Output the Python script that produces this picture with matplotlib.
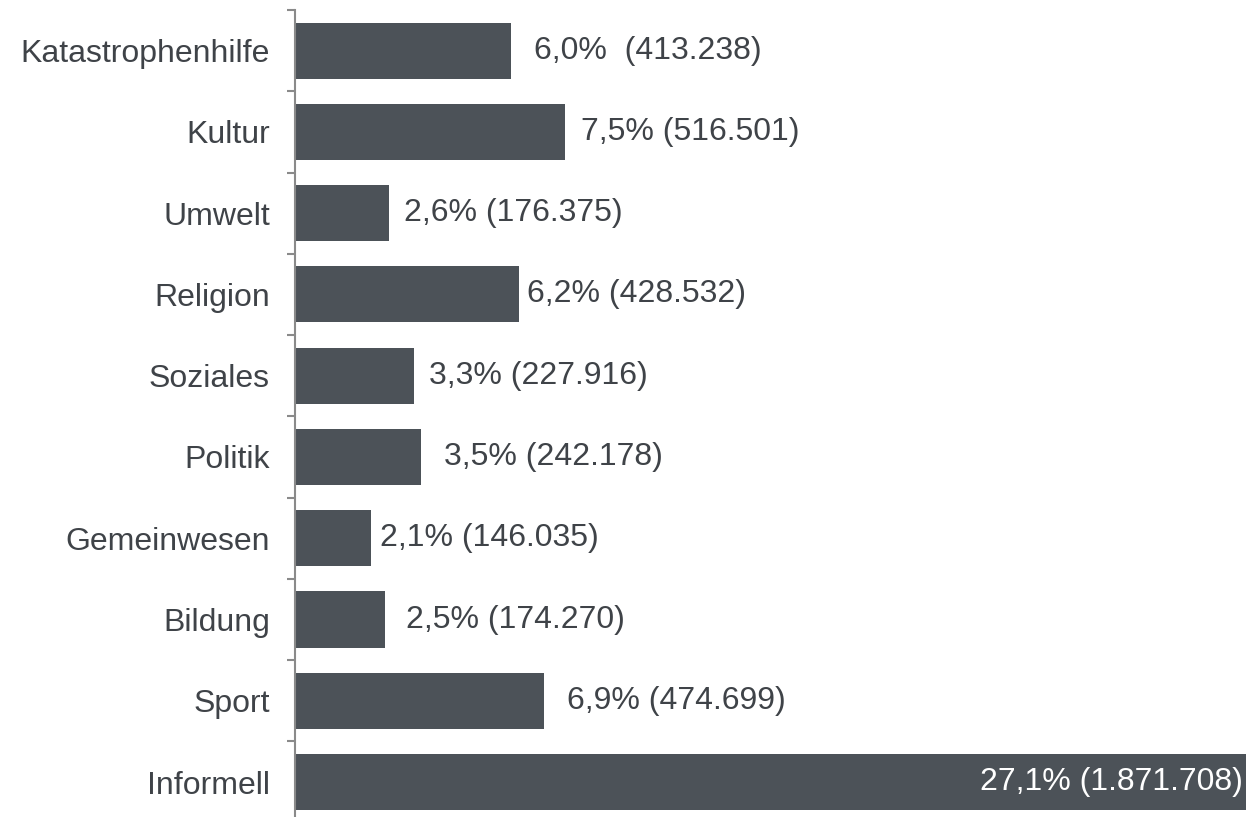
import numpy as np
from matplotlib import pyplot as plt

# data
categories = ["Katastrophenhilfe", "Kultur", "Umwelt", "Religion", "Soziales",
              "Politik", "Gemeinwesen", "Bildung", "Sport", "Informell"]
percent = [6.0, 7.5, 2.6, 6.2, 3.3, 3.5, 2.1, 2.5, 6.9, 27.1]
labels = ["6,0%  (413.238)", "7,5% (516.501)", "2,6% (176.375)", "6,2% (428.532)",
          "3,3% (227.916)", "3,5% (242.178)", "2,1% (146.035)", "2,5% (174.270)",
          "6,9% (474.699)", "27,1% (1.871.708)"]

# label gap after each bar end (points), uneven like in the original
gaps = [16.5, 11, 11, 6, 11, 16.5, 7, 15, 16.5]

bar_color = "#4c5258"
text_color = "#3f4348"
axis_color = "#8a8a8a"

plt.rcParams['font.family'] = ['Liberation Sans', 'DejaVu Sans']

fig = plt.figure(figsize=(12.46, 8.17), dpi=100)
ax = fig.add_axes([295/1246, 0, 951/1246, 807/817])

y = np.arange(len(categories))
ax.barh(y, percent, height=0.69, color=bar_color)

ax.set_xlim(0, 951/36.05)
ax.set_ylim(9.43, -0.5)

# value labels
for i in range(len(categories)):
    if i < len(gaps):
        ax.annotate(labels[i], xy=(percent[i], y[i]), xytext=(gaps[i], 0),
                    textcoords='offset points', ha='left', va='center',
                    fontsize=23, color=text_color)
    else:
        # bar runs off the edge, label sits inside in white
        ax.annotate(labels[i], xy=(1, y[i]), xycoords=('axes fraction', 'data'),
                    xytext=(-2, 0), textcoords='offset points', ha='right',
                    va='center', fontsize=23, color='white')

# axes styling
for s in ['top', 'right', 'bottom']:
    ax.spines[s].set_visible(False)
ax.spines['left'].set_color(axis_color)
ax.spines['left'].set_linewidth(1.5)
ax.set_xticks([])
ax.set_yticks(y)
ax.set_yticklabels(categories, fontsize=23, color=text_color)
ax.set_yticks(np.arange(len(categories)) - 0.5, minor=True)
ax.tick_params(axis='y', which='major', length=0, pad=18)
ax.tick_params(axis='y', which='minor', length=6, width=1.5, color=axis_color)

plt.savefig("out.png", dpi=100)
plt.close()
